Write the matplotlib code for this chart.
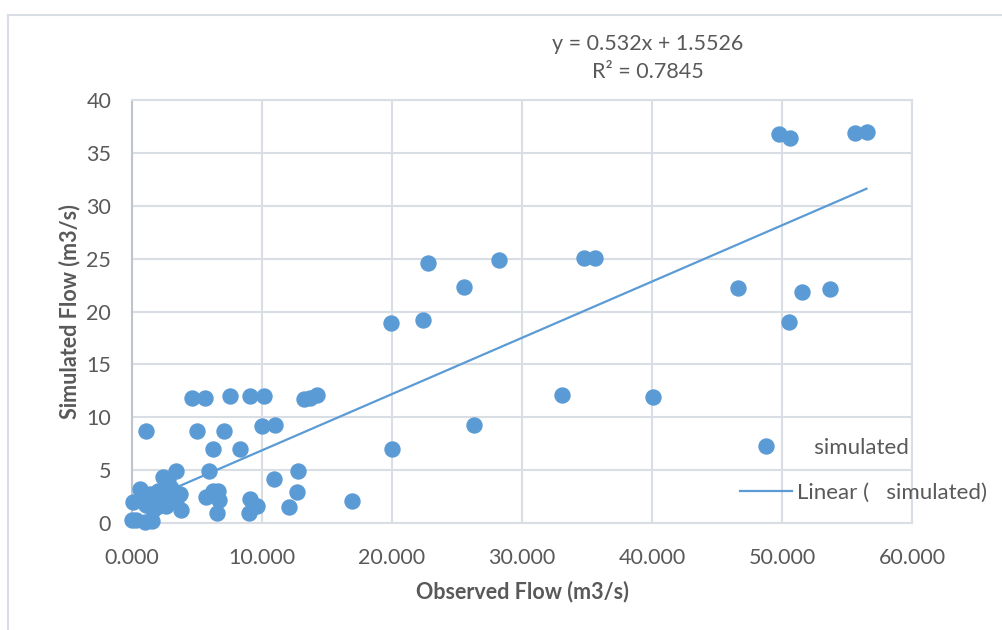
import matplotlib
matplotlib.use("Agg")
import matplotlib.pyplot as plt
from matplotlib.lines import Line2D
import numpy as np

# observed flow (m3/s) and simulated flow (m3/s)
observed = [0.0, 0.3, 0.1, 0.6, 0.7, 1.1, 1.0, 1.5, 1.4, 2.0, 2.1, 2.65, 2.5, 3.0,
            3.4, 3.7, 3.8, 2.4, 2.8, 3.4, 1.1, 1.6, 0.9, 1.8, 4.6, 5.6, 7.55, 9.1,
            10.15, 13.2, 13.7, 14.2, 5.0, 7.05, 10.0, 11.0, 6.2, 8.3, 5.95, 12.75,
            10.9, 12.7, 12.05, 9.1, 9.6, 9.0, 5.7, 6.2, 6.6, 6.7, 6.5, 16.9, 20.0,
            26.3, 19.9, 22.4, 22.75, 25.5, 28.2, 34.8, 35.6, 33.1, 40.1, 46.6,
            49.8, 50.6, 50.5, 51.5, 53.7, 55.6, 56.5]
simulated = [0.3, 0.3, 2.0, 3.2, 2.4, 1.7, 0.1, 0.2, 2.7, 3.0, 1.6, 1.6, 2.8, 3.3,
             2.2, 2.7, 1.2, 4.35, 4.2, 4.95, 8.7, 1.2, 2.0, 2.4, 11.8, 11.8, 12.0,
             12.0, 12.0, 11.7, 11.8, 12.1, 8.7, 8.7, 9.2, 9.3, 7.0, 7.0, 4.95, 4.95,
             4.2, 2.9, 1.5, 2.3, 1.6, 0.9, 2.5, 3.0, 3.0, 2.2, 0.9, 2.1, 7.0, 9.3,
             18.9, 19.2, 24.6, 22.3, 24.9, 25.1, 25.1, 12.1, 11.9, 22.2, 36.8,
             36.4, 19.0, 21.8, 22.1, 36.9, 37.0]

slope = 0.532
intercept = 1.5526
r_squared = 0.7845

x_ticks = [0, 10, 20, 30, 40, 50, 60]
y_ticks = [0, 5, 10, 15, 20, 25, 30, 35, 40]

blue = "#5B9BD5"
grey_text = "#595959"
grid_col = "#D9DDE4"
fs = 15.5

plt.rcParams['font.family'] = ['Lato', 'DejaVu Sans']

fig = plt.figure(figsize=(10.02, 6.3), dpi=100)
ax = fig.add_axes([132 / 1002, 1 - 523 / 630, 780 / 1002, 423 / 630])

# chart border (only top and left visible in the crop)
fig.add_artist(Line2D([8 / 1002, 1], [1 - 15 / 630, 1 - 15 / 630],
                      transform=fig.transFigure, color=grid_col, lw=1.5))
fig.add_artist(Line2D([8 / 1002, 8 / 1002], [0, 1 - 15 / 630],
                      transform=fig.transFigure, color=grid_col, lw=1.5))

x_line = np.array([min(observed), max(observed)])
ax.plot(x_line, slope * x_line + intercept, color=blue, lw=1.6, zorder=2)
ax.plot(observed, simulated, linestyle="none", marker="o", ms=10.8,
        color=blue, markeredgecolor=blue, zorder=3, clip_on=False)

ax.set_xlim(0, 60)
ax.set_ylim(0, 40)
ax.set_xticks(x_ticks)
ax.set_yticks(y_ticks)
ax.set_xticklabels([f"{v:.3f}" for v in x_ticks])
ax.tick_params(length=0, labelsize=fs, colors=grey_text)
ax.tick_params(axis="x", pad=18)
ax.tick_params(axis="y", pad=15)
ax.grid(True, color=grid_col, lw=1.5, zorder=0)
ax.set_axisbelow(True)
for side in ["top", "right", "bottom"]:
    ax.spines[side].set_color(grid_col)
    ax.spines[side].set_linewidth(1.5)
ax.spines["left"].set_color("#BFC5CF")
ax.spines["left"].set_linewidth(1.5)

ax.set_xlabel("Observed Flow (m3/s)", fontsize=fs, fontweight="bold",
              color=grey_text, labelpad=9)
ax.set_ylabel("Simulated Flow (m3/s)", fontsize=fs, fontweight="bold",
              color=grey_text, labelpad=4)

fig.text(648 / 1002, 1 - 44 / 630, f"y = {slope}x + {intercept}", ha="center",
         va="center", fontsize=fs, color=grey_text)
fig.text(648 / 1002, 1 - 72 / 630, f"R² = {r_squared}", ha="center",
         va="center", fontsize=fs, color=grey_text)

handles = [Line2D([], [], linestyle="none", marker="o", ms=10.8, color=blue),
           Line2D([], [], color=blue, lw=1.6)]
ax.legend(handles, ["   simulated", "Linear (   simulated)"], frameon=False,
          loc="upper left", bbox_to_anchor=(740 / 1002, 1 - 438 / 630),
          bbox_transform=fig.transFigure, fontsize=16, labelcolor=grey_text,
          handlelength=2.35, handletextpad=0.22, borderpad=0,
          borderaxespad=0, labelspacing=1.12)

fig.savefig("out.png", dpi=100)
